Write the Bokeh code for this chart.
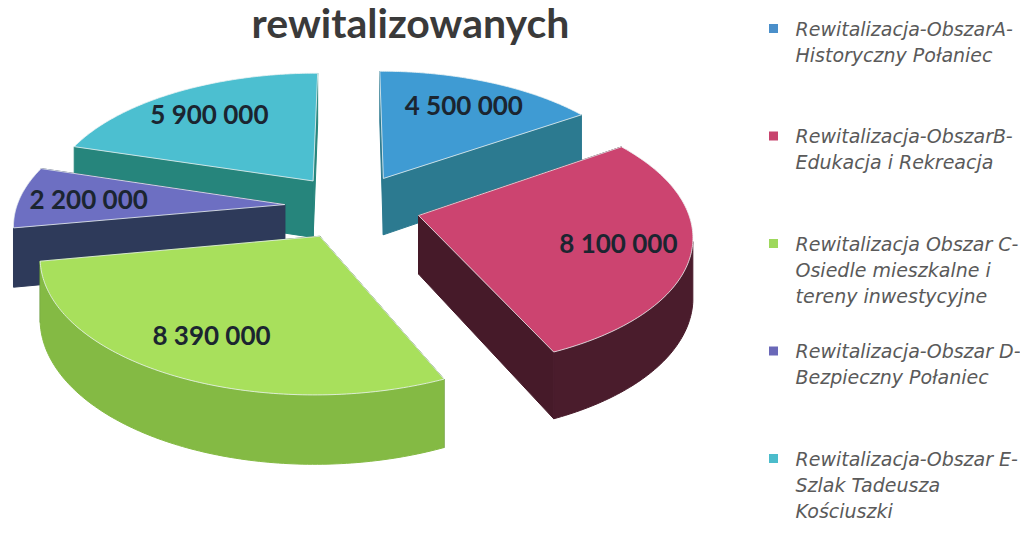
import numpy as np
from bokeh.plotting import figure
from bokeh.models import Range1d
from bokeh.core.properties import value
from bokeh.embed import file_html
from bokeh.resources import INLINE

# ---------------- data ----------------
title_text = "rewitalizowanych"
values = [4500000, 8100000, 8390000, 2200000, 5900000]
value_labels = [f"{v:,}".replace(",", " ") for v in values]
legend_labels = [
    "Rewitalizacja-ObszarA-\nHistoryczny Połaniec",
    "Rewitalizacja-ObszarB-\nEdukacja i Rekreacja",
    "Rewitalizacja Obszar C-\nOsiedle mieszkalne i\ntereny inwestycyjne",
    "Rewitalizacja-Obszar D-\nBezpieczny Połaniec",
    "Rewitalizacja-Obszar E-\nSzlak Tadeusza\nKościuszki",
]
top_colors = ["#3f9bd3", "#cc4470", "#a8e05c", "#6d6fc2", "#4cbfd0"]
radial_colors = ["#2c7a90", "#461a29", "#3f6b2a", "#2e3a5a", "#26857c"]
wall_colors = ["#2c7a90", "#4a1c2c", "#84ba44", "#2f3c5e", "#26857c"]
legend_colors = ["#4a8fca", "#c8446e", "#9ed85c", "#6a68b8", "#4bbccb"]

# ---------------- geometry / style ----------------
OX, OY = 352.0, 206.0
R = 268.0
T = 0.48
P = 0.134
EXPLODE = 68.0
THICK = 58.0
LABEL_R = 0.74
ELEV = np.radians(29)
DIST = R / P
VX, VY = 0.0, -DIST * np.cos(ELEV)


def proj(X, Y, h):
    X = np.asarray(X, float)
    Y = np.asarray(Y, float)
    s = 1.0 / (1.0 + P * Y / R)
    return OX + X * s, OY - Y * T * s + h * s


p = figure(width=1020, height=522, output_backend="svg", toolbar_location=None,
           x_range=Range1d(0, 1020), y_range=Range1d(522, 0), min_border=0)
p.axis.visible = False
p.grid.visible = False
p.outline_line_color = None
p.background_fill_color = "white"
p.border_fill_color = "white"

total = float(sum(values))
fracs = [v / total for v in values]
starts = []
acc = 0.0
for f in fracs:
    a1 = 90.0 - 360.0 * acc
    a2 = a1 - 360.0 * f
    starts.append((a1, a2))
    acc += f

slices = []
for i, (a1, a2) in enumerate(starts):
    m = np.radians((a1 + a2) / 2)
    cx, cy = EXPLODE * np.cos(m), EXPLODE * np.sin(m)
    slices.append((i, a1, a2, m, cx, cy))

# back to front
order = sorted(slices, key=lambda s: -s[5])

for (i, a1, a2, m, cx, cy) in order:
    arc = np.radians(np.linspace(a1, a2, 120))
    ax = cx + R * np.cos(arc)
    ay = cy + R * np.sin(arc)

    faces_hidden, faces_vis = [], []
    for a, nrm in ((np.radians(a1), np.radians(a1) + np.pi / 2),
                   (np.radians(a2), np.radians(a2) - np.pi / 2)):
        ex, ey = cx + R * np.cos(a), cy + R * np.sin(a)
        X3 = [cx, ex, ex, cx]
        Y3 = [cy, ey, ey, cy]
        H3 = [0, 0, THICK, THICK]
        xs, ys = [], []
        for X, Y, h in zip(X3, Y3, H3):
            sx, sy = proj(X, Y, h)
            xs.append(float(sx)); ys.append(float(sy))
        mx, my = (cx + ex) / 2, (cy + ey) / 2
        d = np.cos(nrm) * (VX - mx) + np.sin(nrm) * (VY - my)
        (faces_vis if d > 0 else faces_hidden).append((xs, ys, radial_colors[i]))
    vis = np.cos(arc) * (VX - ax) + np.sin(arc) * (VY - ay) > 0
    idx = np.where(vis)[0]
    if len(idx) > 1:
        wx = ax[idx]; wy = ay[idx]
        tx, ty = proj(wx, wy, 0)
        bx, by = proj(wx, wy, THICK)
        xs = list(tx) + list(bx[::-1])
        ys = list(ty) + list(by[::-1])
        faces_vis.append((xs, ys, wall_colors[i]))

    for xs, ys, c in faces_hidden + faces_vis:
        p.patch(xs, ys, fill_color=c, line_color=c, line_width=1)

    tx, ty = proj(np.r_[cx, ax], np.r_[cy, ay], 0)
    p.patch(list(tx), list(ty), fill_color=top_colors[i],
            line_color="#eef4f4", line_alpha=0.8, line_width=1)

lx, ly, lt = [], [], []
for (i, a1, a2, m, cx, cy) in slices:
    X = cx + LABEL_R * R * np.cos(m)
    Y = cy + LABEL_R * R * np.sin(m)
    sx, sy = proj(X, Y, 0)
    lx.append(float(sx)); ly.append(float(sy)); lt.append(value_labels[i])

p.text(x=lx, y=ly, text=lt, text_align="center", text_baseline="middle",
       text_font=value("Lato"), text_font_style="bold", text_font_size="26px",
       text_color="#1b2530")

# title
p.text(x=[410], y=[22], text=[title_text], text_align="center",
       text_baseline="middle", text_font=value("Lato"),
       text_font_style="bold", text_font_size="41px", text_color="#3a3a3a")

# legend
LEG_X = 773
LEG_TX = 795
LEG_Y0 = 28
LEG_STEP = 107.5
LINE_H = 26
sq_x, sq_y, tx_x, tx_y, tx_t = [], [], [], [], []
for k, lab in enumerate(legend_labels):
    y0 = LEG_Y0 + LEG_STEP * k
    sq_x.append(LEG_X); sq_y.append(y0)
    for j, line in enumerate(lab.split("\n")):
        tx_x.append(LEG_TX); tx_y.append(y0 + j * LINE_H); tx_t.append(line)

p.scatter(x=sq_x, y=sq_y, marker="square", size=9, fill_color=legend_colors,
          line_color=None)
p.text(x=tx_x, y=tx_y, text=tx_t, text_align="left", text_baseline="middle",
       text_font=value("DejaVu Sans"), text_font_style="italic", text_font_size="19px",
       text_color="#5a5a5a")

open("out.html", "w").write(file_html(p, INLINE))
